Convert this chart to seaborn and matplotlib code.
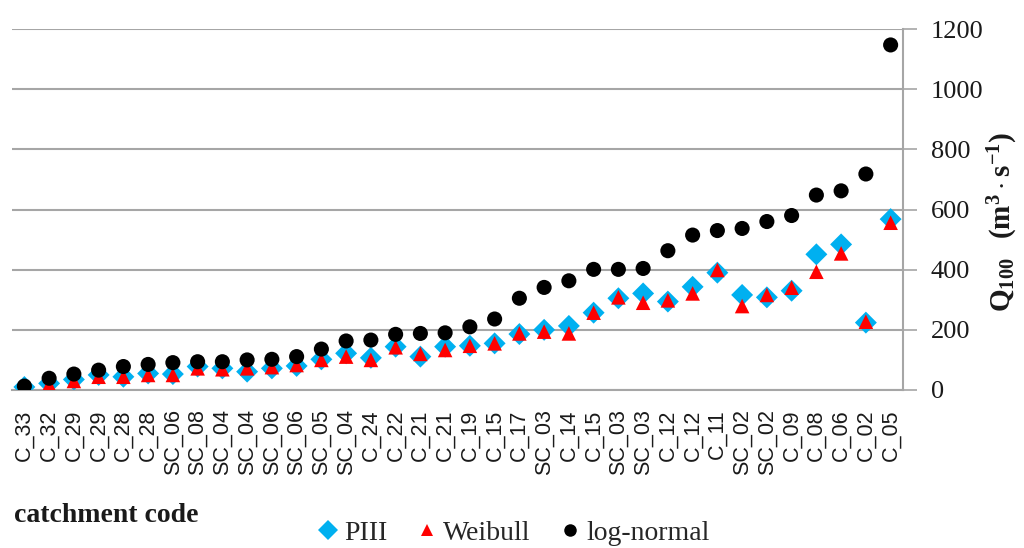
import numpy as np
import pandas as pd
import matplotlib
matplotlib.use("Agg")
import matplotlib.pyplot as plt
from matplotlib.lines import Line2D
import seaborn as sns

# Catchment codes, ordered by increasing log-normal Q100
codes = ["C_33", "C_32", "C_29", "C_29", "C_28", "C_28", "SC_06", "SC_08", "SC_04",
         "SC_04", "SC_06", "SC_06", "SC_05", "SC_04", "C_24", "C_22", "C_21", "C_21",
         "C_19", "C_15", "C_17", "SC_03", "C_14", "C_15", "SC_03", "SC_03", "C_12",
         "C_12", "C_11", "SC_02", "SC_02", "C_09", "C_08", "C_06", "C_02", "C_05"]

# Q100 estimates (m3/s) for each distribution
piii = [10, 22, 35, 50, 44, 55, 53, 78, 72, 61, 72, 80, 102, 122, 107, 144, 111, 144,
        147, 155, 186, 200, 213, 257, 305, 321, 294, 343, 390, 316, 308, 330, 451, 484,
        224, 568]
weibull = [5, 18, 30, 44, 44, 50, 50, 72, 69, 72, 76, 83, 100, 111, 100, 142, 120, 133,
           147, 155, 188, 194, 188, 257, 308, 290, 298, 321, 399, 279, 316, 340, 393,
           454, 227, 556]
lognormal = [13, 39, 53, 66, 78, 85, 91, 94, 94, 100, 102, 111, 136, 163, 166, 185, 188,
             190, 210, 236, 305, 341, 363, 401, 401, 404, 463, 515, 530, 537, 560, 580,
             648, 662, 718, 1147]

series_names = ["PIII", "Weibull", "log-normal"]

pos = np.arange(len(codes))
df = pd.DataFrame({"pos": pos, "PIII": piii, "Weibull": weibull, "log-normal": lognormal})

sns.set_theme(style="white")
plt.rcParams["mathtext.fontset"] = "custom"
plt.rcParams["mathtext.rm"] = "Liberation Serif"
plt.rcParams["mathtext.bf"] = "Liberation Serif:bold"

fig = plt.figure(figsize=(10.24, 5.48), dpi=100)
ax = fig.add_axes([12 / 1024, (548 - 390) / 548, 891 / 1024, 361 / 548])

grid_col = "#a6a6a6"
text_col = "#1a1a1a"
styles = {
    "PIII": dict(marker="D", color="#00b0f0", s=125),
    "Weibull": dict(marker="^", color="#ff0000", s=110),
    "log-normal": dict(marker="o", color="#000000", s=118),
}
for name in series_names:
    st = styles[name]
    sns.scatterplot(data=df, x="pos", y=name, ax=ax, marker=st["marker"],
                    color=st["color"], s=st["s"], edgecolor="none", linewidth=0,
                    zorder=3, legend=False)

ax.set_xlim(-0.5, len(codes) - 0.5)
ax.set_ylim(0, 1200)

# y axis on the right
ax.yaxis.tick_right()
ax.set_yticks(np.arange(0, 1201, 200))
ax.set_yticklabels([str(v) for v in range(0, 1201, 200)],
                   fontfamily="Liberation Serif", fontsize=19)
ax.tick_params(axis="y", which="major", length=10, width=1.2, color=grid_col,
               pad=10, labelcolor=text_col)
ax.grid(axis="y", color=grid_col, linewidth=1.5)
ax.set_axisbelow(True)

# x axis: boundary ticks, category labels in between
ax.set_xticks(np.arange(-0.5, len(codes), 1.0))
ax.set_xticklabels([])
ax.tick_params(axis="x", which="major", length=9, width=1.2, color=grid_col)
ax.set_xticks(pos, minor=True)
ax.set_xticklabels(codes, minor=True, rotation=90, fontfamily="Liberation Sans",
                   fontsize=15.5, color=text_col)
ax.tick_params(axis="x", which="minor", length=0, pad=14)

for side in ["top", "left"]:
    ax.spines[side].set_visible(False)
for side in ["bottom", "right"]:
    ax.spines[side].set_color(grid_col)
    ax.spines[side].set_linewidth(1.5)

ax.set_xlabel("")
ax.set_ylabel("")
fig.text(1003 / 1024, 1 - 222 / 548,
         r"$\mathbf{Q_{100}\ \ (m^{3}\,{\cdot}\,s^{-1})}$",
         rotation=90, fontsize=21, ha="center", va="center", color=text_col)

fig.text(14 / 1024, 1 - 516 / 548, "catchment code", fontfamily="Liberation Serif",
         fontweight="bold", fontsize=20, va="center", ha="left", color=text_col)

handles = [Line2D([], [], linestyle="none", marker=styles[n]["marker"],
                  color=styles[n]["color"], markersize=ms, markeredgewidth=0)
           for n, ms in zip(series_names, [10, 9, 9])]
fig.legend(handles, series_names, loc="center", bbox_to_anchor=(512 / 1024, 1 - 533 / 548),
           ncol=3, frameon=False, prop={"family": "Liberation Serif", "size": 20},
           handletextpad=0.1, columnspacing=0.9, handlelength=1.0)

fig.savefig("out.png", dpi=100)
